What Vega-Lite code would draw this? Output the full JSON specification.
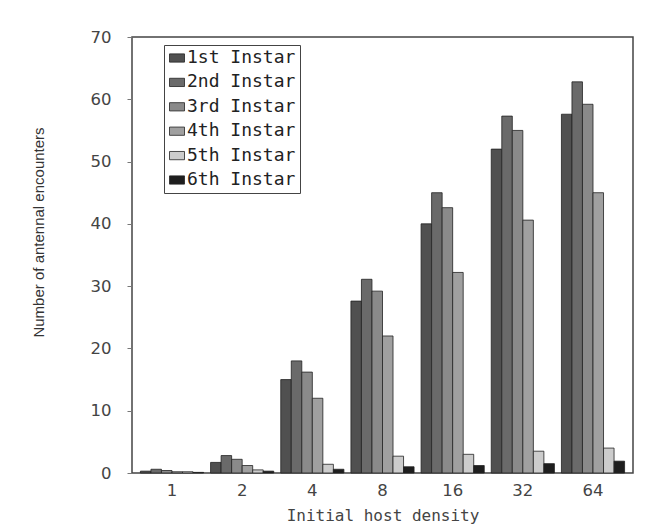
{
  "$schema": "https://vega.github.io/schema/vega-lite/v6.json",
  "autosize": {"type": "none"},
  "padding": {"left": 132, "top": 37, "right": 14, "bottom": 56},
  "width": 501,
  "height": 436,
  "background": "white",
  "config": {
    "view": {"stroke": "#444", "strokeWidth": 1.5},
    "font": "DejaVu Sans"
  },
  "data": {
    "values": [
      {"density": "1", "instar": "1st Instar", "value": 0.3},
      {"density": "1", "instar": "2nd Instar", "value": 0.6},
      {"density": "1", "instar": "3rd Instar", "value": 0.4},
      {"density": "1", "instar": "4th Instar", "value": 0.2},
      {"density": "1", "instar": "5th Instar", "value": 0.2},
      {"density": "1", "instar": "6th Instar", "value": 0.1},
      {"density": "2", "instar": "1st Instar", "value": 1.7},
      {"density": "2", "instar": "2nd Instar", "value": 2.8},
      {"density": "2", "instar": "3rd Instar", "value": 2.2},
      {"density": "2", "instar": "4th Instar", "value": 1.2},
      {"density": "2", "instar": "5th Instar", "value": 0.5},
      {"density": "2", "instar": "6th Instar", "value": 0.3},
      {"density": "4", "instar": "1st Instar", "value": 15},
      {"density": "4", "instar": "2nd Instar", "value": 18},
      {"density": "4", "instar": "3rd Instar", "value": 16.2},
      {"density": "4", "instar": "4th Instar", "value": 12},
      {"density": "4", "instar": "5th Instar", "value": 1.4},
      {"density": "4", "instar": "6th Instar", "value": 0.6},
      {"density": "8", "instar": "1st Instar", "value": 27.6},
      {"density": "8", "instar": "2nd Instar", "value": 31.1},
      {"density": "8", "instar": "3rd Instar", "value": 29.2},
      {"density": "8", "instar": "4th Instar", "value": 22},
      {"density": "8", "instar": "5th Instar", "value": 2.7},
      {"density": "8", "instar": "6th Instar", "value": 1},
      {"density": "16", "instar": "1st Instar", "value": 40},
      {"density": "16", "instar": "2nd Instar", "value": 45},
      {"density": "16", "instar": "3rd Instar", "value": 42.6},
      {"density": "16", "instar": "4th Instar", "value": 32.2},
      {"density": "16", "instar": "5th Instar", "value": 3},
      {"density": "16", "instar": "6th Instar", "value": 1.2},
      {"density": "32", "instar": "1st Instar", "value": 52},
      {"density": "32", "instar": "2nd Instar", "value": 57.3},
      {"density": "32", "instar": "3rd Instar", "value": 55},
      {"density": "32", "instar": "4th Instar", "value": 40.6},
      {"density": "32", "instar": "5th Instar", "value": 3.5},
      {"density": "32", "instar": "6th Instar", "value": 1.5},
      {"density": "64", "instar": "1st Instar", "value": 57.6},
      {"density": "64", "instar": "2nd Instar", "value": 62.8},
      {"density": "64", "instar": "3rd Instar", "value": 59.2},
      {"density": "64", "instar": "4th Instar", "value": 45},
      {"density": "64", "instar": "5th Instar", "value": 4},
      {"density": "64", "instar": "6th Instar", "value": 1.9}
    ]
  },
  "mark": {"type": "bar", "stroke": "#222", "strokeWidth": 0.8},
  "encoding": {
    "x": {
      "field": "density",
      "type": "nominal",
      "sort": ["1", "2", "4", "8", "16", "32", "64"],
      "scale": {"paddingInner": 0.1, "paddingOuter": 0.12},
      "axis": {
        "title": "Initial host density",
        "labelAngle": 0,
        "ticks": false,
        "domain": false,
        "labelFontSize": 16.5,
        "labelColor": "#444",
        "labelPadding": 9,
        "titleFont": "DejaVu Sans Mono",
        "titleFontSize": 16,
        "titleFontWeight": "normal",
        "titleColor": "#444",
        "titlePadding": 9
      }
    },
    "xOffset": {
      "field": "instar",
      "type": "nominal",
      "sort": ["1st Instar", "2nd Instar", "3rd Instar", "4th Instar", "5th Instar", "6th Instar"]
    },
    "y": {
      "field": "value",
      "type": "quantitative",
      "scale": {"domain": [0, 70], "nice": false},
      "axis": {
        "title": "Number of antennal encounters",
        "values": [0, 10, 20, 30, 40, 50, 60, 70],
        "grid": false,
        "domain": false,
        "tickSize": 5,
        "tickColor": "#777",
        "labelFontSize": 16.5,
        "labelColor": "#444",
        "labelPadding": 16,
        "titleFont": "Liberation Sans",
        "titleFontSize": 15,
        "titleFontWeight": "normal",
        "titleColor": "#333",
        "titleX": -86,
        "titleY": 195
      }
    },
    "fill": {
      "field": "instar",
      "type": "nominal",
      "sort": ["1st Instar", "2nd Instar", "3rd Instar", "4th Instar", "5th Instar", "6th Instar"],
      "scale": {"range": ["#505050", "#6a6a6a", "#8a8a8a", "#a0a0a0", "#cccccc", "#1e1e1e"]},
      "legend": {
        "title": null,
        "orient": "none",
        "legendX": 32,
        "legendY": 8,
        "strokeColor": "#444",
        "padding": 4,
        "symbolType": "M-1,-0.55H1V0.55H-1Z",
        "symbolSize": 225,
        "symbolStrokeColor": "#222",
        "symbolStrokeWidth": 0.8,
        "labelFont": "DejaVu Sans Mono",
        "labelFontSize": 18,
        "labelColor": "#222",
        "rowPadding": 6.4,
        "labelOffset": 1
      }
    }
  }
}
